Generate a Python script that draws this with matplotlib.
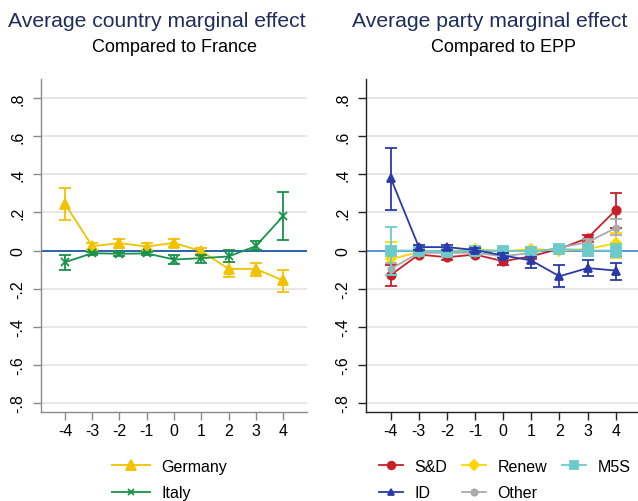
import numpy as np
import matplotlib.pyplot as plt
from matplotlib.lines import Line2D

plt.rcParams['font.family'] = ['Liberation Sans', 'DejaVu Sans']

# distance values
x = [-4, -3, -2, -1, 0, 1, 2, 3, 4]

# left panel: country effects vs France (estimate, lower, upper)
germany = [0.245, 0.023, 0.039, 0.021, 0.040, -0.003, -0.096, -0.096, -0.157]
germany_lo = [0.161, 0.005, 0.013, 0.003, 0.018, -0.018, -0.138, -0.135, -0.218]
germany_hi = [0.330, 0.041, 0.061, 0.039, 0.062, 0.012, -0.058, -0.065, -0.100]

italy = [-0.061, -0.014, -0.017, -0.015, -0.047, -0.040, -0.031, 0.023, 0.180]
italy_lo = [-0.100, -0.022, -0.030, -0.024, -0.073, -0.063, -0.060, 0.005, 0.056]
italy_hi = [-0.021, -0.006, -0.005, -0.006, -0.021, -0.021, 0.004, 0.052, 0.307]

# right panel: party effects vs EPP
sd = [-0.128, -0.021, -0.035, -0.021, -0.056, -0.030, 0.009, 0.065, 0.212]
sd_lo = [-0.184, -0.030, -0.048, -0.030, -0.075, -0.045, -0.005, 0.044, 0.119]
sd_hi = [-0.075, -0.012, -0.022, -0.012, -0.038, -0.015, 0.023, 0.084, 0.303]

renew = [-0.044, -0.009, -0.005, 0.009, -0.005, 0.009, 0.000, 0.009, 0.037]
renew_lo = [-0.130, -0.018, -0.014, 0.000, -0.014, -0.002, -0.015, -0.010, -0.038]
renew_hi = [0.044, 0.000, 0.004, 0.018, 0.004, 0.020, 0.015, 0.028, 0.093]

m5s = [0.000, 0.000, -0.005, 0.000, 0.000, -0.005, 0.009, 0.000, 0.000]
m5s_lo = [-0.126, -0.010, -0.015, -0.010, -0.010, -0.015, -0.012, -0.028, -0.035]
m5s_hi = [0.126, 0.010, 0.005, 0.010, 0.010, 0.005, 0.030, 0.028, 0.035]

id_ = [0.380, 0.018, 0.018, 0.003, -0.026, -0.052, -0.135, -0.092, -0.105]
id_lo = [0.215, 0.005, 0.005, -0.008, -0.040, -0.090, -0.189, -0.131, -0.157]
id_hi = [0.540, 0.030, 0.030, 0.014, -0.012, -0.035, -0.075, -0.049, -0.065]

other = [-0.096, -0.012, -0.012, -0.012, -0.030, -0.012, 0.015, 0.044, 0.118]
other_lo = [-0.130, -0.020, -0.020, -0.020, -0.042, -0.022, 0.002, 0.030, 0.080]
other_hi = [-0.065, -0.004, -0.004, -0.004, -0.018, -0.002, 0.028, 0.058, 0.166]

yticks = [-0.8, -0.6, -0.4, -0.2, 0, 0.2, 0.4, 0.6, 0.8]
ylabels = ['-.8', '-.6', '-.4', '-.2', '0', '.2', '.4', '.6', '.8']

fig = plt.figure(figsize=(6.38, 5.02), dpi=100)
W, H = 638, 502
ax1 = fig.add_axes([41 / W, 1 - 413 / H, 266 / W, 333 / H])
ax2 = fig.add_axes([366 / W, 1 - 413 / H, 274.4 / W, 333 / H])


def style(ax, spine_col, zero_col):
    ax.set_xlim(-4.88, 4.88)
    ax.set_ylim(-0.847, 0.90)
    ax.set_xticks(x)
    ax.set_xticklabels([str(v) for v in x], fontsize=11.5)
    ax.set_yticks(yticks)
    ax.set_yticklabels(ylabels, fontsize=11.5, rotation=90, va='center')
    for s in ['top', 'right']:
        ax.spines[s].set_visible(False)
    for s in ['left', 'bottom']:
        ax.spines[s].set_color(spine_col)
        ax.spines[s].set_linewidth(1.0)
    ax.tick_params(axis='both', length=6, color=spine_col, width=1.0)
    ax.tick_params(axis='x', pad=2)
    ax.tick_params(axis='y', pad=5)
    for yv in yticks:
        if yv != 0:
            ax.axhline(yv, color='#e3e3e3', lw=1.2, zorder=0)
    ax.axhline(0, color=zero_col, lw=1.3, zorder=1)


def series(ax, y, lo, hi, color, marker, ms, label, z):
    y = np.array(y)
    err = [y - np.array(lo), np.array(hi) - y]
    ax.errorbar(x, y, yerr=err, color=color, marker=marker, ms=ms, lw=1.3,
                elinewidth=1.3, capsize=4, capthick=1.3, label=label,
                zorder=z, mew=1.3)


style(ax1, '#8a8a8a', '#1a56a8')
series(ax1, germany, germany_lo, germany_hi, '#f2c200', '^', 7, 'Germany', 3)
series(ax1, italy, italy_lo, italy_hi, '#17924a', 'x', 5.5, 'Italy', 4)

style(ax2, '#222222', '#4f88e0')
series(ax2, sd, sd_lo, sd_hi, '#c8202a', 'o', 6, 'S&D', 3)
series(ax2, renew, renew_lo, renew_hi, '#ffd700', 'D', 5.5, 'Renew', 4)
series(ax2, other, other_lo, other_hi, '#aaaaaa', 'o', 4.5, 'Other', 5)
series(ax2, m5s, m5s_lo, m5s_hi, '#6ccaca', 's', 6.5, 'M5S', 6)
series(ax2, id_, id_lo, id_hi, '#2a3aa8', '^', 5.5, 'ID', 7)

# titles
navy = '#1f2d5c'
fig.text(157 / W, 1 - 27 / H, 'Average country marginal effect', fontsize=15.2,
         color=navy, ha='center', va='baseline')
fig.text(174 / W, 1 - 52 / H, 'Compared to France', fontsize=13,
         ha='center', va='baseline')
fig.text(489.5 / W, 1 - 27 / H, 'Average party marginal effect', fontsize=15.2,
         color=navy, ha='center', va='baseline')
fig.text(503.5 / W, 1 - 52 / H, 'Compared to EPP', fontsize=13,
         ha='center', va='baseline')


def handle(color, marker, ms):
    return Line2D([], [], color=color, marker=marker, ms=ms, lw=1.3, mew=1.3)


fig.legend([handle('#f2c200', '^', 6.5), handle('#17924a', 'x', 5)],
           ['Germany', 'Italy'], loc='upper left',
           bbox_to_anchor=(112 / W, 1 - 460 / H), frameon=False, fontsize=11.5,
           handlelength=2.4, handletextpad=0.7, labelspacing=0.7,
           borderaxespad=0, borderpad=0)

h2 = [handle('#c8202a', 'o', 5.5), handle('#2a3aa8', '^', 5),
      handle('#ffd700', 'D', 5.5), handle('#aaaaaa', 'o', 4.5),
      handle('#6ccaca', 's', 6)]
fig.legend(h2, ['S&D', 'ID', 'Renew', 'Other', 'M5S'], loc='upper left',
           ncol=3, bbox_to_anchor=(379 / W, 1 - 460 / H), frameon=False,
           fontsize=11.5, handlelength=1.5, handletextpad=0.7, labelspacing=0.7,
           columnspacing=0.95, borderaxespad=0, borderpad=0)

fig.savefig('out.png', dpi=100)
